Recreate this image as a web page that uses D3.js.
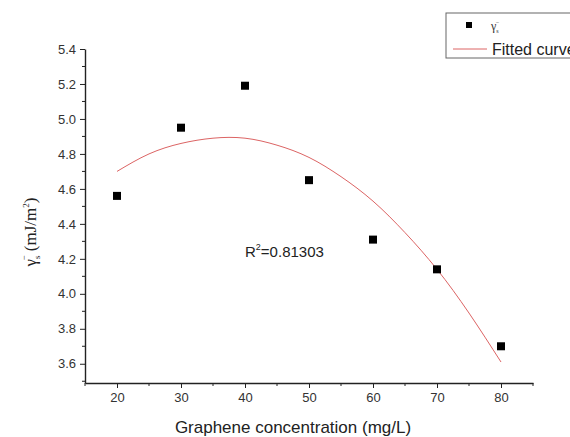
<!DOCTYPE html>
<html>
<head>
<meta charset="utf-8">
<script src="https://cdnjs.cloudflare.com/ajax/libs/d3/7.8.5/d3.min.js"></script>
<style>
  body { margin: 0; background: #fff; }
  svg { display: block; font-family: "Liberation Sans", Arial, sans-serif; }
</style>
</head>
<body>
<svg id="chart"></svg>
<script>
// measured points
const concentration = [20, 30, 40, 50, 60, 70, 80]
const gammaS = [4.56, 4.95, 5.19, 4.65, 4.31, 4.14, 3.70]

// fitted curve
const fitX = [20, 25, 30, 35, 40, 45, 50, 55, 60, 65, 70, 75, 80]
const fitY = [4.70, 4.80, 4.86, 4.89, 4.89, 4.85, 4.78, 4.67, 4.53, 4.35, 4.14, 3.89, 3.61]

const xTicks = [20, 30, 40, 50, 60, 70, 80]
const yTicks = [3.6, 3.8, 4.0, 4.2, 4.4, 4.6, 4.8, 5.0, 5.2, 5.4]
const rSquared = "0.81303"

const width = 570
const height = 437

const svg = d3.select("#chart")
  .attr("width", width)
  .attr("height", height)

svg.append("rect").attr("width", width).attr("height", height).attr("fill", "#fff")

const x = d3.scaleLinear().domain([15, 85]).range([85, 533])
const y = d3.scaleLinear().domain([3.49, 5.4]).range([383, 49])

// axes
const xAxis = svg.append("g").attr("transform", `translate(0,${y.range()[0]})`)
xAxis.call(d3.axisBottom(x).tickValues(xTicks).tickSize(5).tickPadding(5).tickSizeOuter(0))
xAxis.append("g").selectAll("line")
  .data(d3.range(15, 86, 10))
  .join("line")
    .attr("x1", d => x(d)).attr("x2", d => x(d))
    .attr("y1", 0).attr("y2", 3)
    .attr("stroke", "#222")

const yAxis = svg.append("g").attr("transform", `translate(${x.range()[0]},0)`)
yAxis.call(d3.axisLeft(y).tickValues(yTicks).tickFormat(d3.format(".1f")).tickSize(5).tickPadding(4).tickSizeOuter(0))
yAxis.append("g").selectAll("line")
  .data(d3.range(3.5, 5.35, 0.2))
  .join("line")
    .attr("x1", 0).attr("x2", -3)
    .attr("y1", d => y(d)).attr("y2", d => y(d))
    .attr("stroke", "#222")

svg.selectAll(".domain").attr("stroke", "#222").attr("stroke-width", 1.4)
svg.selectAll(".tick line").attr("stroke", "#222")
svg.selectAll(".tick text")
  .attr("font-size", 13)
  .attr("font-family", "Liberation Sans, Arial, sans-serif")
  .attr("fill", "#333")

// fitted curve
svg.append("path")
  .datum(fitX.map((d, i) => [d, fitY[i]]))
  .attr("fill", "none")
  .attr("stroke", "#dc6464")
  .attr("stroke-width", 1)
  .attr("d", d3.line().x(d => x(d[0])).y(d => y(d[1])).curve(d3.curveNatural))

// points
svg.append("g").selectAll("rect")
  .data(concentration.map((d, i) => [d, gammaS[i]]))
  .join("rect")
    .attr("x", d => x(d[0]) - 4)
    .attr("y", d => y(d[1]) - 4)
    .attr("width", 8).attr("height", 8)
    .attr("fill", "#000")

// R² label
const r2 = svg.append("text")
  .attr("x", 245).attr("y", 257)
  .attr("font-size", 15)
  .attr("fill", "#222")
r2.append("tspan").text("R")
r2.append("tspan").attr("font-size", 9).attr("dy", -7).text("2")
r2.append("tspan").attr("dy", 7).text("=" + rSquared)

// axis titles
svg.append("text")
  .attr("x", 293)
  .attr("y", 433)
  .attr("text-anchor", "middle")
  .attr("font-size", 17)
  .attr("fill", "#222")
  .text("Graphene concentration (mg/L)")

const yl = svg.append("text")
  .attr("transform", "translate(36,232) rotate(-90)")
  .attr("text-anchor", "middle")
  .attr("font-family", "Liberation Serif, Times New Roman, serif")
  .attr("font-size", 17)
  .attr("fill", "#222")
yl.append("tspan").text("γ")
yl.append("tspan").attr("font-size", 9).attr("dy", 4).text("s")
yl.append("tspan").attr("font-size", 9).attr("dx", -5).attr("dy", -13).text("−")
yl.append("tspan").attr("dy", 9).text(" (mJ/m")
yl.append("tspan").attr("font-size", 9).attr("dy", -7).text("2")
yl.append("tspan").attr("dy", 7).text(")")

// legend
const legend = svg.append("g")
legend.append("rect")
  .attr("x", 446).attr("y", 13)
  .attr("width", 140).attr("height", 45)
  .attr("fill", "#fff")
  .attr("stroke", "#666")
  .attr("stroke-width", 1)
legend.append("rect")
  .attr("x", 466).attr("y", 22)
  .attr("width", 6).attr("height", 6)
  .attr("fill", "#000")
const lg = legend.append("text")
  .attr("x", 491).attr("y", 30)
  .attr("font-family", "Liberation Serif, Times New Roman, serif")
  .attr("font-size", 12)
  .attr("fill", "#333")
lg.append("tspan").text("γ")
lg.append("tspan").attr("font-size", 6).attr("dy", 3).text("s")
lg.append("tspan").attr("font-size", 6).attr("dx", -3).attr("dy", -9).text("−")
legend.append("line")
  .attr("x1", 453).attr("x2", 487)
  .attr("y1", 49).attr("y2", 49)
  .attr("stroke", "#dc6464")
  .attr("stroke-width", 1)
legend.append("text")
  .attr("x", 492).attr("y", 55)
  .attr("font-size", 16)
  .attr("fill", "#222")
  .text("Fitted curve")
</script>
</body>
</html>
